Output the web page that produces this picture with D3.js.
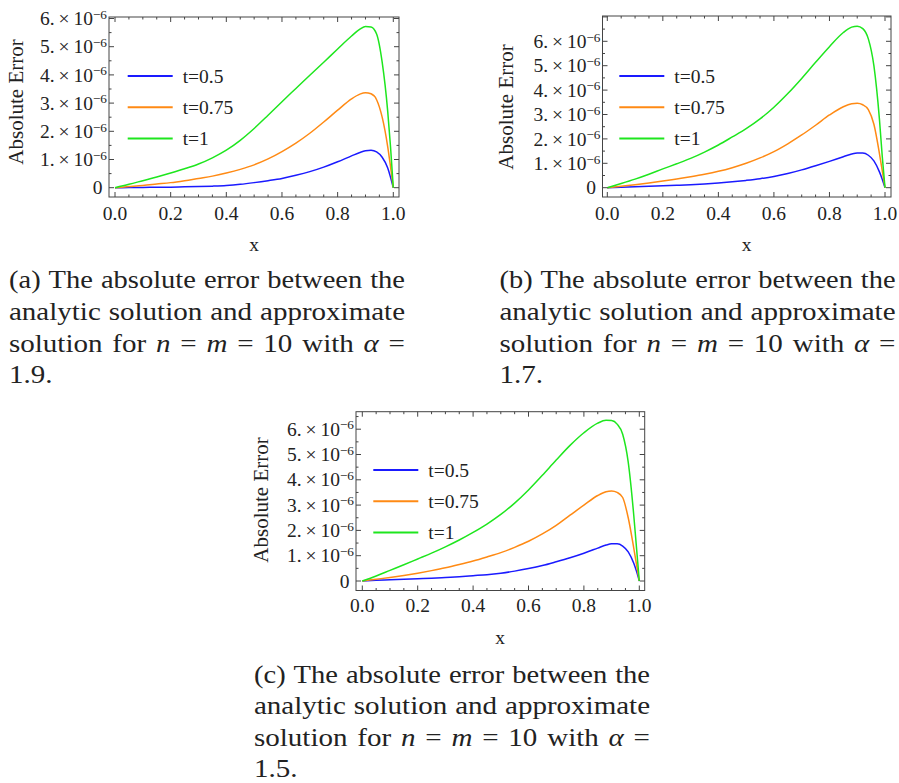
<!DOCTYPE html>
<html>
<head>
<meta charset="utf-8">
<script src="https://cdn.jsdelivr.net/npm/d3@7"></script>
<style>
  html, body { margin: 0; padding: 0; background: #fff; }
  svg { display: block; }
  text { font-family: "Liberation Serif", "Times New Roman", serif; fill: #222; }
</style>
</head>
<body>
<svg id="chart" width="899" height="783"></svg>
<script>
// ---------------- DATA (values in units of 1e-6) ----------------
const xValues = [0, 0.05, 0.1, 0.15, 0.2, 0.25, 0.3, 0.35, 0.4, 0.45, 0.5, 0.55, 0.6, 0.65,
                 0.7, 0.75, 0.8, 0.85, 0.88, 0.9, 0.92, 0.94, 0.96, 0.98, 0.99, 1.0];

// (a) alpha = 1.9
const errA_t050 = [0,0.005,0.01,0.015,0.02,0.03,0.04,0.055,0.078,0.12,0.18,0.25,0.33,0.44,0.57,0.73,0.92,1.13,1.25,1.31,1.33,1.27,1.08,0.7,0.37,0];
const errA_t075 = [0,0.04,0.08,0.13,0.18,0.25,0.33,0.41,0.52,0.65,0.81,1.02,1.28,1.58,1.93,2.33,2.75,3.15,3.32,3.37,3.33,3.12,2.5,1.45,0.75,0];
const errA_t100 = [0,0.12,0.25,0.38,0.52,0.67,0.84,1.06,1.33,1.68,2.1,2.57,3.05,3.52,3.99,4.45,4.92,5.38,5.62,5.72,5.7,5.45,4.45,2.7,1.45,0];

// (b) alpha = 1.7
const errB_t050 = [0,0.02,0.04,0.06,0.08,0.1,0.12,0.15,0.19,0.24,0.3,0.37,0.46,0.58,0.73,0.9,1.08,1.27,1.38,1.42,1.42,1.33,1.1,0.65,0.35,0];
const errB_t075 = [0,0.06,0.12,0.19,0.27,0.36,0.45,0.55,0.67,0.82,1.0,1.22,1.48,1.8,2.16,2.56,2.98,3.32,3.44,3.46,3.4,3.2,2.6,1.4,0.7,0];
const errB_t100 = [0,0.17,0.35,0.55,0.77,0.98,1.2,1.46,1.75,2.08,2.42,2.82,3.3,3.86,4.48,5.14,5.78,6.36,6.58,6.62,6.52,6.1,5.0,2.8,1.3,0];

// (c) alpha = 1.5
const errC_t050 = [0,0.03,0.05,0.07,0.09,0.11,0.14,0.17,0.21,0.25,0.31,0.39,0.49,0.61,0.76,0.92,1.1,1.3,1.42,1.47,1.47,1.38,1.15,0.7,0.38,0];
const errC_t075 = [0,0.07,0.14,0.22,0.31,0.41,0.52,0.65,0.79,0.95,1.12,1.33,1.57,1.86,2.2,2.6,3.0,3.38,3.53,3.56,3.5,3.3,2.5,1.3,0.65,0];
const errC_t100 = [0,0.2,0.42,0.64,0.87,1.1,1.35,1.62,1.92,2.25,2.63,3.08,3.6,4.18,4.78,5.36,5.86,6.24,6.35,6.34,6.2,5.8,4.7,2.6,1.3,0];

const seriesNames = ["t=0.5", "t=0.75", "t=1"];
const xTickValues = [0, 0.2, 0.4, 0.6, 0.8, 1.0];
const xTickLabels = ["0.0", "0.2", "0.4", "0.6", "0.8", "1.0"];
const yTickValues = [0, 1, 2, 3, 4, 5, 6];   // ×10^-6
const xAxisTitle = "x";
const yAxisTitle = "Absolute Error";

const captionA = ["(a) The absolute error between the", "analytic solution and approximate", "solution for n = m = 10 with α =", "1.9."];
const captionB = ["(b) The absolute error between the", "analytic solution and approximate", "solution for n = m = 10 with α =", "1.7."];
const captionC = ["(c) The absolute error between the", "analytic solution and approximate", "solution for n = m = 10 with α =", "1.5."];

// ---------------- STYLE / LAYOUT ----------------
const colors = ["#1a1aff", "#ff8a14", "#1ee61e"];
const SERIF = "'Liberation Serif', 'Times New Roman', serif";

const panels = [
  { series: [errA_t050, errA_t075, errA_t100], caption: captionA,
    frame: {l:109, r:399, t:17, b:197}, x0:115, x1:393.3, y0:187.7, unit:28.2,
    legend: {x:127.7, y:76}, yLab: {x:16, y:102}, xLab: {x:254, y:251}, xTickBase:220,
    cap: {x:9, y:288.3, w:396, lh:31.7} },
  { series: [errB_t050, errB_t075, errB_t100], caption: captionB,
    frame: {l:602.5, r:891, t:16, b:197}, x0:607.3, x1:885, y0:187.7, unit:24.4,
    legend: {x:619.3, y:76}, yLab: {x:506, y:107}, xLab: {x:746.7, y:251}, xTickBase:220,
    cap: {x:499.5, y:288.3, w:396, lh:31.7} },
  { series: [errC_t050, errC_t075, errC_t100], caption: captionC,
    frame: {l:356, r:644.7, t:411.7, b:590.5}, x0:362.3, x1:639.3, y0:581, unit:25.3,
    legend: {x:373.3, y:470}, yLab: {x:261, y:500}, xLab: {x:500, y:644}, xTickBase:611.5,
    cap: {x:254, y:683, w:396, lh:31.3} }
];

const svg = d3.select("#chart");
const FS = 19.5;

panels.forEach(p => {
  const g = svg.append("g").attr("font-family", SERIF);
  const f = p.frame;
  const x = d3.scaleLinear().domain([0, 1]).range([p.x0, p.x1]);
  const y = d3.scaleLinear().domain([0, 1]).range([p.y0, p.y0 - p.unit]);
  const xMinD = x.invert(f.l), xMaxD = x.invert(f.r);
  const yMinD = y.invert(f.b), yMaxD = y.invert(f.t);

  const clipId = "clip" + Math.round(f.l);
  g.append("clipPath").attr("id", clipId).append("rect")
    .attr("x", f.l).attr("y", f.t).attr("width", f.r - f.l).attr("height", f.b - f.t);

  // curves
  const line = d3.line().x((d, i) => x(xValues[i])).y(d => y(d)).curve(d3.curveMonotoneX);
  p.series.forEach((s, k) => {
    g.append("path").datum(s).attr("d", line)
      .attr("fill", "none").attr("stroke", colors[k]).attr("stroke-width", 1.5)
      .attr("stroke-linejoin", "round")
      .attr("clip-path", `url(#${clipId})`);
  });

  // ticks
  const tickG = g.append("g").attr("stroke", "#444").attr("stroke-width", 1);
  const xMinor = d3.range(0, 1.0001, 0.05).filter(v => v >= xMinD && v <= xMaxD);
  xMinor.forEach(v => {
    const major = xTickValues.some(t => Math.abs(t - v) < 1e-6);
    const L = major ? 5 : 2.5;
    tickG.append("line").attr("x1", x(v)).attr("x2", x(v)).attr("y1", f.b).attr("y2", f.b - L);
    tickG.append("line").attr("x1", x(v)).attr("x2", x(v)).attr("y1", f.t).attr("y2", f.t + L);
  });
  const yMinor = d3.range(0, 8, 0.5).filter(v => v >= yMinD && v <= yMaxD);
  yMinor.forEach(v => {
    const major = Math.abs(v - Math.round(v)) < 1e-6;
    const L = major ? 5 : 2.5;
    tickG.append("line").attr("x1", f.l).attr("x2", f.l + L).attr("y1", y(v)).attr("y2", y(v));
    tickG.append("line").attr("x1", f.r).attr("x2", f.r - L).attr("y1", y(v)).attr("y2", y(v));
  });

  // frame
  g.append("rect").attr("x", f.l).attr("y", f.t).attr("width", f.r - f.l).attr("height", f.b - f.t)
    .attr("fill", "none").attr("stroke", "#444").attr("stroke-width", 1);

  // x tick labels
  xTickValues.forEach((v, i) => {
    g.append("text").attr("x", x(v)).attr("y", p.xTickBase).attr("text-anchor", "middle")
      .attr("font-size", FS).text(xTickLabels[i]);
  });

  // y tick labels
  yTickValues.filter(v => v >= yMinD && v <= yMaxD).forEach(v => {
    const t = g.append("text").attr("y", y(v)).attr("dy", "0.34em").attr("text-anchor", "end")
      .attr("font-size", FS);
    if (v === 0) {
      t.attr("x", f.l - 6.5).text("0");
    } else {
      t.attr("x", f.l - 2);
      t.append("tspan").text(v + ".\u2009×\u200910");
      t.append("tspan").attr("dy", "-0.48em").attr("font-size", FS * 0.68).text("\u22126");
    }
  });

  // axis titles
  g.append("text").attr("x", p.xLab.x).attr("y", p.xLab.y).attr("text-anchor", "middle")
    .attr("font-size", FS).text(xAxisTitle);
  g.append("text").attr("transform", `translate(${p.yLab.x},${p.yLab.y}) rotate(-90)`)
    .attr("dy", "0.34em").attr("text-anchor", "middle").attr("font-size", 21).text(yAxisTitle);

  // legend
  seriesNames.forEach((name, k) => {
    const ly = p.legend.y + k * 31.2;
    g.append("line").attr("x1", p.legend.x).attr("x2", p.legend.x + 45)
      .attr("y1", ly).attr("y2", ly).attr("stroke", colors[k]).attr("stroke-width", 2);
    g.append("text").attr("x", p.legend.x + 55).attr("y", ly).attr("dy", "0.34em")
      .attr("font-size", FS).text(name);
  });

  // caption (justified lines like LaTeX), glyphs slightly widened to mimic Computer Modern
  const capFS = 25;
  const capG = svg.append("g").attr("font-size", capFS).attr("font-family", SERIF);
  const italicTokens = new Set(["n", "m", "α"]);
  const normalGap = 8;
  let lastStretch = 1.1;
  p.caption.forEach((lineText, li) => {
    const words = lineText.split(" ");
    const by = p.cap.y + li * p.cap.lh;
    const nodes = words.map(w => {
      const t = capG.append("text").attr("y", by).attr("font-family", SERIF).text(w);
      if (italicTokens.has(w)) t.attr("font-style", "italic");
      return t;
    });
    const widths = nodes.map(n => n.node().getComputedTextLength());
    const total = d3.sum(widths);
    const last = li === p.caption.length - 1;
    let stretch, gap;
    if (last) {
      stretch = lastStretch; gap = normalGap;
    } else {
      stretch = Math.max(1, Math.min(1.16, (p.cap.w - normalGap * (words.length - 1)) / total));
      lastStretch = stretch;
      gap = (p.cap.w - total * stretch) / (words.length - 1);
    }
    let cx = p.cap.x;
    nodes.forEach((n, i) => {
      const w = widths[i] * stretch;
      n.attr("x", cx).attr("textLength", w).attr("lengthAdjust", "spacingAndGlyphs");
      cx += w + gap;
    });
  });
});
</script>
</body>
</html>
